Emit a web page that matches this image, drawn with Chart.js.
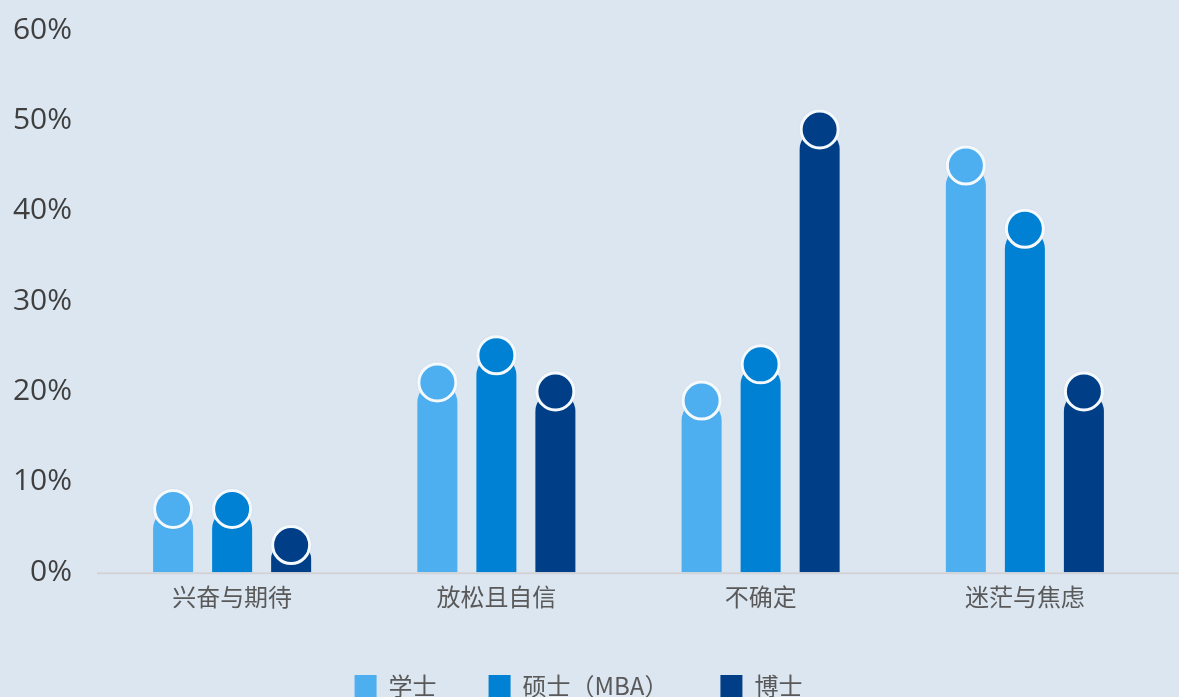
<!DOCTYPE html>
<html>
<head>
<meta charset="utf-8">
<script src="https://cdn.jsdelivr.net/npm/chart.js@4"></script>
<style>
  html, body { margin: 0; padding: 0; background: #dce6f1; overflow: hidden; }
  #wrap { position: relative; width: 1179px; height: 708px; }
</style>
</head>
<body>
<div id="wrap"><canvas id="c"></canvas></div>
<script>
// categories + series (values in %)
const categories = ['兴奋与期待', '放松且自信', '不确定', '迷茫与焦虑'];
const seriesNames = ['学士', '硕士（MBA）', '博士'];
const bachelor = [7, 21, 19, 45];
const master = [7, 24, 23, 38];
const doctor = [3, 20, 49, 20];
const seriesColors = ['#4daef0', '#0081d4', '#003f88'];
const yMin = 0, yMax = 60, yStep = 10;

// round cap drawn on top of every bar, at the bar's own value pixel
const capPlugin = {
  id: 'caps',
  beforeDatasetsDraw(chart) {
    // baseline runs on past the last category to the canvas edge
    const ctx = chart.ctx;
    const y = chart.scales.y.getPixelForValue(0);
    ctx.save();
    ctx.strokeStyle = '#d3d3d6';
    ctx.lineWidth = 2;
    ctx.beginPath();
    ctx.moveTo(chart.chartArea.left - 3, y + 1);
    ctx.lineTo(chart.width, y + 1);
    ctx.stroke();
    ctx.restore();
  },
  afterDatasetsDraw(chart) {
    const ctx = chart.ctx;
    chart.data.datasets.forEach((ds, i) => {
      const meta = chart.getDatasetMeta(i);
      if (meta.hidden) return;
      meta.data.forEach(el => {
        const r = el.width / 2 - 1.5;
        ctx.save();
        ctx.shadowColor = 'rgba(0,0,0,0.25)';
        ctx.shadowBlur = 3;
        ctx.beginPath();
        ctx.arc(el.x, el.y, r, 0, Math.PI * 2);
        ctx.fillStyle = ds.backgroundColor;
        ctx.fill();
        ctx.shadowColor = 'transparent';
        ctx.lineWidth = 3;
        ctx.strokeStyle = '#f4f9fd';
        ctx.stroke();
        ctx.restore();
      });
    });
  }
};

const values = [bachelor, master, doctor];
const datasets = seriesNames.map((name, i) => ({
  label: name,
  data: values[i],
  backgroundColor: seriesColors[i],
  borderWidth: 0,
  borderRadius: { topLeft: 20, topRight: 20, bottomLeft: 0, bottomRight: 0 },
  borderSkipped: false,
  categoryPercentage: 0.67,
  barPercentage: 0.678,
}));

new Chart(document.getElementById('c'), {
  type: 'bar',
  data: { labels: categories, datasets },
  options: {
    responsive: true,
    maintainAspectRatio: false,
    animation: false,
    layout: { padding: { top: 30, right: 22, left: 0, bottom: 0 } },
    plugins: {
      tooltip: { enabled: false },
      legend: {
        position: 'bottom',
        labels: {
          color: '#595959',
          font: { family: "'Noto Sans CJK SC', 'Open Sans', sans-serif", size: 24 },
          boxWidth: 22,
          boxHeight: 22,
          padding: 52,
        },
      },
    },
    scales: {
      x: {
        grid: { display: false },
        border: { display: false },
        afterFit(scale) { scale.height += 9; },
        ticks: {
          color: '#595959',
          padding: 2,
          font: { family: "'Noto Sans CJK SC', sans-serif", size: 24 },
        },
      },
      y: {
        min: yMin,
        max: yMax,
        grid: { display: false },
        border: { display: false },
        afterFit(scale) {
          scale.width = 100;
          scale.paddingTop = 0;
          scale.paddingBottom = 0;
        },
        ticks: {
          stepSize: yStep,
          color: '#3f3f3f',
          padding: 20,
          font: { family: "'Open Sans', sans-serif", size: 30 },
          callback: v => v + '%',
        },
      },
    },
  },
  plugins: [capPlugin],
});
</script>
</body>
</html>
